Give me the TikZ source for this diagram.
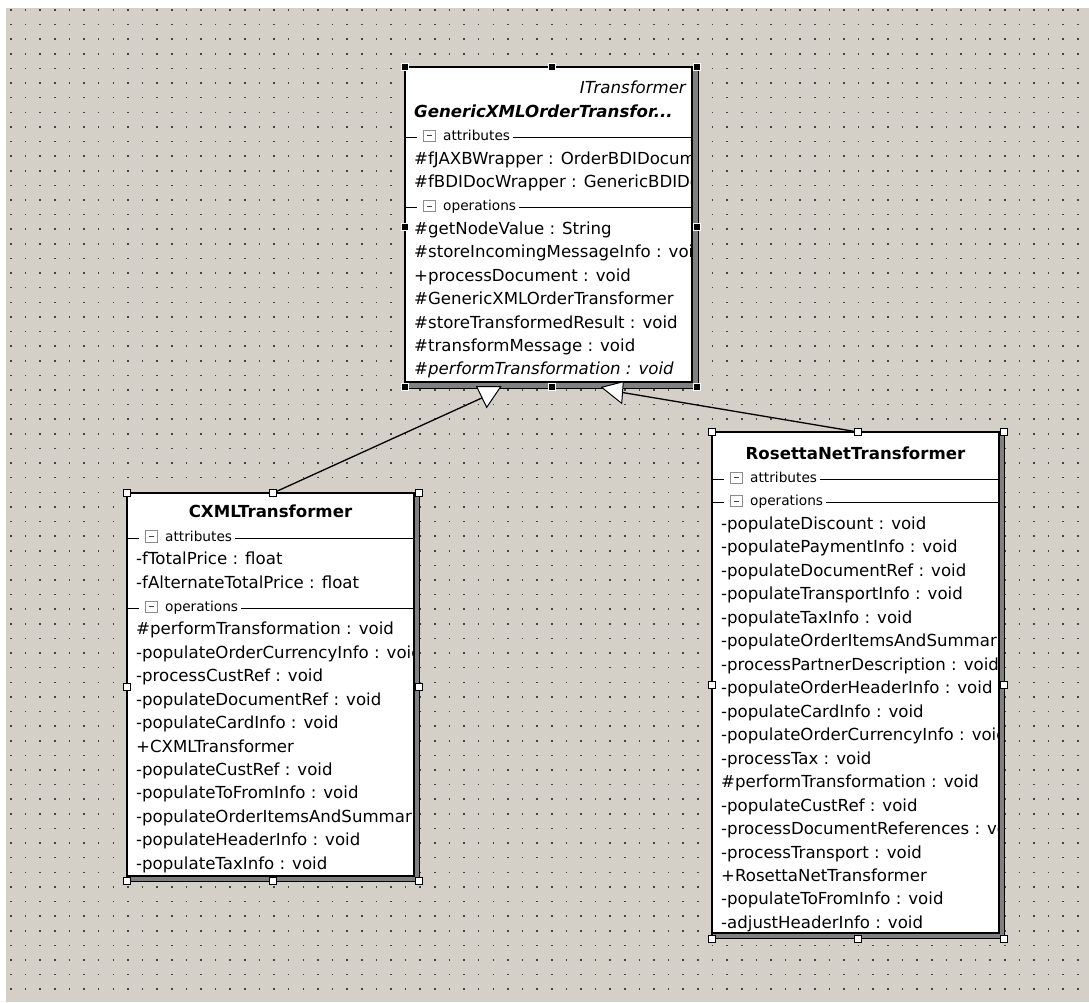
\documentclass[tikz,border=0pt]{standalone}
\usepackage{fontspec}
\setmainfont{DejaVu Sans}

\definecolor{canvasgray}{HTML}{D4D0C8}
\definecolor{shadowgray}{HTML}{808080}
\definecolor{dotgray}{HTML}{444444}
\definecolor{icongray}{HTML}{8C8C8C}

\newcommand{\memberfont}{\fontsize{16.6pt}{20pt}\selectfont}
\newcommand{\sectfont}{\fontsize{13.7pt}{16pt}\selectfont}

% class frame: left, top, inner right, inner bottom, outer right, outer bottom
\newcommand{\umlframe}[6]{%
  \fill[shadowgray] (#1,#2) rectangle (#5,#6);
  \draw[line width=1pt] (#5,#2) -- (#5,#6) -- (#1,#6);
  \fill[white] (#1,#2) rectangle (#3,#4);
}
\newcommand{\umlborder}[6]{%
  \draw[line width=1.5pt] (#3,#2) -- (#3,#4) -- (#1,#4);
  \draw[line width=2.8pt] (#1,#6) -- (#1,#2) -- (#5,#2);
}
% compartment header: name, left, inner right, baseline, label
\newcommand{\compartment}[5]{%
  \draw[secline] (#2,#4-3) -- (#2+12,#4-3);
  \draw[iconbox] (#2+18.5,#4-10.5) rectangle (#2+30,#4+1);
  \draw[iconbar] (#2+21.5,#4-4.75) -- (#2+27,#4-4.75);
  \node[secttext] (#1) at (#2+38,#4) {#5};
  \draw[secline] (#1.base east) ++(3,-3) -- (#3,#4-3);
}

\tikzset{
  dotrow/.style={draw=dotgray, line width=1.6pt, dash pattern=on 1.6pt off 13.015pt},
  member/.style={anchor=base west, inner sep=0pt, font=\memberfont},
  classtitle/.style={anchor=base, inner sep=0pt, font=\memberfont\bfseries},
  secttext/.style={anchor=base west, inner sep=0pt, font=\sectfont},
  secline/.style={line width=1pt, draw=black},
  iconbox/.style={line width=1pt, draw=icongray, fill=white},
  iconbar/.style={line width=1.2pt, draw=black!75},
  connector/.style={line width=1.3pt, draw=black},
  headtri/.style={line width=1pt, draw=black, fill=white, line join=miter},
  plainhandle/.style={rectangle, draw=black, fill=white, line width=1pt, minimum size=7pt, inner sep=0pt},
  selhandle/.style={rectangle, draw=white, fill=black, line width=0.8pt, minimum size=7pt, inner sep=0pt},
}

\begin{document}
\begin{tikzpicture}[x=1pt,y=-1pt]
\useasboundingbox (0,0) rectangle (1089,1002);
\fill[white] (0,0) rectangle (1089,1002);
\fill[canvasgray] (6,8) rectangle (1089,1002);

% snap grid
\foreach \j in {0,...,67} {
  \draw[dotrow] (10.2,{10+14.615*\j}) -- (1089,{10+14.615*\j});
}

% ---------- GenericXMLOrderTransformer ----------
\umlframe{405}{67}{692}{382}{698}{388}
\begin{scope}
  \clip (405,67) rectangle (691.5,382);
  \node[anchor=base east, inner sep=0pt, font=\memberfont\itshape] (gen-stereo) at (686,93.7) {ITransformer};
  \node[anchor=base west, inner sep=0pt, font=\memberfont\bfseries\itshape] (gen-title) at (414,117.1) {GenericXMLOrderTransfor...};
  \compartment{gen-attr}{405}{692}{140.6}{attributes}
  \foreach \entry [count=\k from 3] in {
      \#fJAXBWrapper : OrderBDIDocum,
      \#fBDIDocWrapper : GenericBDIDoc}
    \node[member] (gen-a\k) at (414,{93.7+23.44*\k}) {\entry};
  \compartment{gen-ops}{405}{692}{210.9}{operations}
  \foreach \entry [count=\k from 6] in {
      \#getNodeValue : String,
      \#storeIncomingMessageInfo : void,
      +processDocument : void,
      \#GenericXMLOrderTransformer,
      \#storeTransformedResult : void,
      \#transformMessage : void,
      {\itshape \#performTransformation : void}}
    \node[member] (gen-o\k) at (414,{93.7+23.44*\k}) {\entry};
\end{scope}
\umlborder{405}{67}{692}{382}{698}{388}

% ---------- CXMLTransformer ----------
\umlframe{127}{493}{414}{876}{419}{881}
\begin{scope}
  \clip (127,493) rectangle (413.5,876);
  \node[classtitle] (cx-title) at (270.5,517.7) {CXMLTransformer};
  \compartment{cx-attr}{127}{414}{541.1}{attributes}
  \foreach \entry [count=\k from 2] in {
      -fTotalPrice : float,
      -fAlternateTotalPrice : float}
    \node[member] (cx-a\k) at (136,{517.7+23.44*\k}) {\entry};
  \compartment{cx-ops}{127}{414}{611.5}{operations}
  \foreach \entry [count=\k from 5] in {
      \#performTransformation : void,
      -populateOrderCurrencyInfo : void,
      -processCustRef : void,
      -populateDocumentRef : void,
      -populateCardInfo : void,
      +CXMLTransformer,
      -populateCustRef : void,
      -populateToFromInfo : void,
      -populateOrderItemsAndSummar,
      -populateHeaderInfo : void,
      -populateTaxInfo : void}
    \node[member] (cx-o\k) at (136,{517.7+23.44*\k}) {\entry};
\end{scope}
\umlborder{127}{493}{414}{876}{419}{881}

% ---------- RosettaNetTransformer ----------
\umlframe{712}{432}{999}{933}{1004}{938.5}
\begin{scope}
  \clip (712,432) rectangle (998.5,933);
  \node[classtitle] (rn-title) at (855.5,459) {RosettaNetTransformer};
  \compartment{rn-attr}{712}{999}{482.5}{attributes}
  \compartment{rn-ops}{712}{999}{505.9}{operations}
  \foreach \entry [count=\k from 3] in {
      -populateDiscount : void,
      -populatePaymentInfo : void,
      -populateDocumentRef : void,
      -populateTransportInfo : void,
      -populateTaxInfo : void,
      -populateOrderItemsAndSummar,
      -processPartnerDescription : void,
      -populateOrderHeaderInfo : void,
      -populateCardInfo : void,
      -populateOrderCurrencyInfo : void,
      -processTax : void,
      \#performTransformation : void,
      -populateCustRef : void,
      -processDocumentReferences : void,
      -processTransport : void,
      +RosettaNetTransformer,
      -populateToFromInfo : void,
      -adjustHeaderInfo : void}
    \node[member] (rn-o\k) at (721,{459+23.47*\k}) {\entry};
\end{scope}
\umlborder{712}{432}{999}{933}{1004}{938.5}

% ---------- handle positions ----------
\coordinate (gh1) at (405,67);   \coordinate (gh2) at (551.5,67);  \coordinate (gh3) at (697,67);
\coordinate (gh4) at (405,226.5); \coordinate (gh5) at (697,226.5);
\coordinate (gh6) at (405,387);  \coordinate (gh7) at (551.5,387); \coordinate (gh8) at (697,387);

\coordinate (ch1) at (127,493);  \coordinate (ch2) at (273,493);   \coordinate (ch3) at (419,493);
\coordinate (ch4) at (127,686.5); \coordinate (ch5) at (419,686.5);
\coordinate (ch6) at (127,880.5); \coordinate (ch7) at (273,880.5); \coordinate (ch8) at (419,880.5);

\coordinate (rh1) at (712,432);  \coordinate (rh2) at (858,432);   \coordinate (rh3) at (1004,432);
\coordinate (rh4) at (712,685);  \coordinate (rh5) at (1004,685);
\coordinate (rh6) at (712,938.5); \coordinate (rh7) at (858,938.5); \coordinate (rh8) at (1004,938.5);

% ---------- generalisations ----------
\coordinate (cx-end) at (484,397);
\coordinate (tl-a) at (476.7,386.7);
\coordinate (tl-b) at (500.7,386.7);
\coordinate (tl-c) at (486.7,407.3);
\coordinate (rn-end) at (622.5,392.5);
\coordinate (tr-a) at (601.7,387.3);
\coordinate (tr-b) at (623.3,381.7);
\coordinate (tr-c) at (621.7,403.3);

\draw[connector] (ch2) -- (cx-end);
\draw[connector] (rh2) -- (rn-end);
\draw[headtri] (tl-a) -- (tl-b) -- (tl-c) -- cycle;
\draw[headtri] (tr-a) -- (tr-b) -- (tr-c) -- cycle;

% ---------- selection handles ----------
\foreach \i in {1,...,8} {
  \node[selhandle] (gsel\i) at (gh\i) {};
  \node[plainhandle] (csel\i) at (ch\i) {};
  \node[plainhandle] (rsel\i) at (rh\i) {};
}
\end{tikzpicture}
\end{document}
